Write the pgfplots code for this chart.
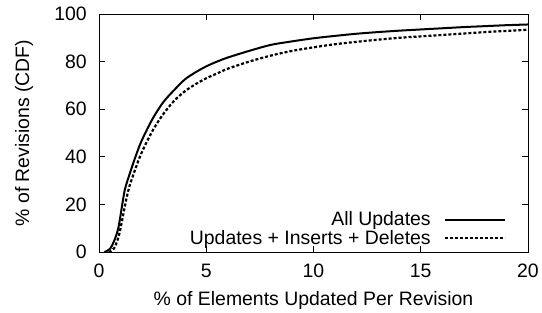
\documentclass[border=0pt]{standalone}
\usepackage{pgfplots}
\pgfplotsset{compat=1.18}
\usepackage{fontspec}
\setmainfont{Liberation Sans}
\begin{document}
\begin{tikzpicture}
\path[use as bounding box] (-99bp,-61bp) rectangle (443bp,252bp);
\begin{axis}[
 at={(0,0)}, anchor=south west,
 scale only axis, width=429bp, height=238bp,
 xmin=0,xmax=20,ymin=0,ymax=100,
 xtick={0,5,10,15,20}, ytick={0,20,...,100},
 tick align=inside, major tick length=6bp,
 tick style={black, line width=0.7bp},
 axis line style={line width=0.9bp},
 ticklabel style={font=\fontsize{19.5}{21}\selectfont, inner sep=0pt},
 xticklabel style={yshift=-12bp},
 yticklabel style={xshift=-12bp},
 label style={font=\fontsize{19.5}{21}\selectfont},
 /pgf/number format/assume math mode=true,
 xlabel={\% of Elements Updated Per Revision},
 ylabel={\% of Revisions (CDF)},
 xlabel style={at={(axis description cs:0.5,-0.2227)}, anchor=base, inner sep=0pt},
 ylabel style={at={(axis description cs:-0.163,0.5)}, anchor=base, inner sep=0pt},
 legend style={draw=none, fill=none, inner sep=0pt, at={(rel axis cs:0.949,0.17)}, anchor=north east,
   font=\fontsize{19.5}{21}\selectfont, row sep=3bp, column sep=0pt, nodes={inner sep=0pt}, legend cell align=right},
 legend plot pos=right,
 legend image code/.code={\path (0bp,0bp); \draw[#1] (13bp,0bp) -- (73bp,0bp);},
]
\addplot[black, line width=2bp, smooth] coordinates {
(0.25,0) (0.5,1.2) (0.7,4.5) (0.9,10) (1.05,18) (1.2,26) (1.4,32) (1.7,40) (2.0,47) (2.5,56) (3.0,63) (3.5,68) (4.0,72.5) (4.5,75.5) (5.0,78) (5.5,80) (6.0,81.7) (7.0,84.5) (8.0,87) (9.0,88.5) (10,89.8) (11,90.8) (12,91.7) (13,92.4) (14,93) (15,93.5) (16,94) (17,94.5) (18,94.9) (19,95.3) (20,95.6)
};
\addlegendentry{All Updates}
\addplot[black, line width=2.2bp, dash pattern=on 3bp off 2bp, smooth] coordinates {
(0.45,0) (0.7,1.5) (0.9,6) (1.05,12) (1.2,19) (1.4,27) (1.7,35) (2.0,42) (2.5,51) (3.0,58) (3.5,63.5) (4.0,67.5) (4.5,70.5) (5.0,73) (5.5,75) (6.0,77) (7.0,80) (8.0,82.5) (9.0,84.5) (10,86) (11,87.3) (12,88.3) (13,89.2) (14,90) (15,90.6) (16,91.2) (17,91.8) (18,92.4) (19,92.9) (20,93.4)
};
\addlegendentry{Updates + Inserts + Deletes}
\end{axis}
\end{tikzpicture}
\end{document}
